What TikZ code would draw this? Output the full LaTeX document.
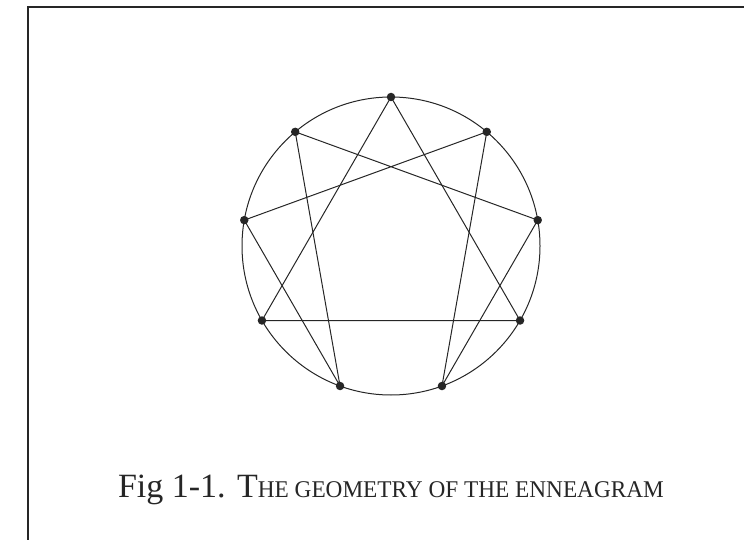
\documentclass[tikz,border=0pt]{standalone}
\usepackage{fontspec}
\usepackage{graphicx}
\setmainfont{Liberation Serif}
\usetikzlibrary{calc}
\newcommand\bigc[1]{{\fontsize{34}{38}\selectfont #1}}
\newcommand\smc[1]{{\fontsize{24}{28}\selectfont\scalebox{0.97}[1]{#1}}}
\begin{document}
\begin{tikzpicture}[x=1pt,y=-1pt,
  dot/.style={circle,fill=black!85,inner sep=0pt,minimum size=8.5pt},
  chord/.style={line width=1pt,black!85},
  frameline/.style={line width=2.6pt,black!85,line join=miter}]
\useasboundingbox (0,0) rectangle (744,540);
\draw[frameline] (28,541) -- (28,7) -- (745,7);
\coordinate (c) at (391,246);
\draw[chord] (c) circle[radius=149];
\foreach \i in {0,...,8}{
  \node[dot] (p\i) at ($(c)+({149*sin(40*\i)},{-149*cos(40*\i)})$) {};
}
\draw[chord] (p1.center) -- (p4.center) -- (p2.center) -- (p8.center) -- (p5.center) -- (p7.center) -- cycle;
\draw[chord] (p0.center) -- (p3.center) -- (p6.center) -- cycle;
\node[anchor=base,inner sep=0pt,text=black!85] (cap) at (391,497)
  {\bigc{Fig 1-1. T}\smc{HE GEOMETRY OF THE ENNEAGRAM}};
\end{tikzpicture}
\end{document}
